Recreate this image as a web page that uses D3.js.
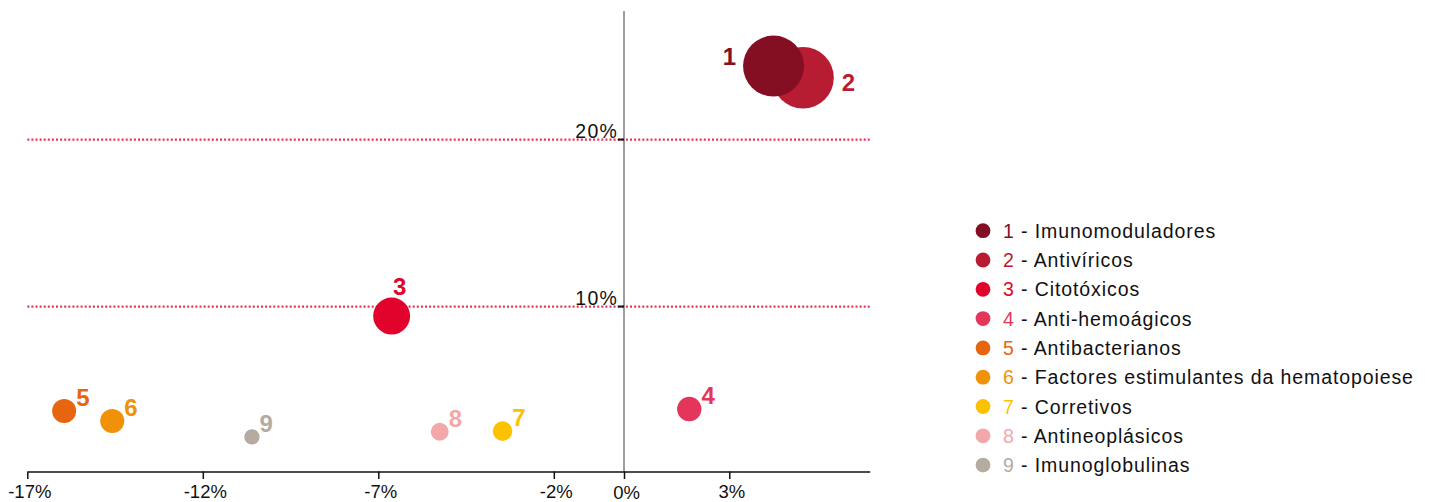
<!DOCTYPE html>
<html>
<head>
<meta charset="utf-8">
<script src="https://cdn.jsdelivr.net/npm/d3@7"></script>
<style>
  html, body { margin: 0; padding: 0; background: #fff; }
  svg { display: block; font-family: "Liberation Sans", Arial, Helvetica, sans-serif; }
</style>
</head>
<body>
<svg id="chart" width="1432" height="502"></svg>
<script>
// Therapeutic groups: growth in value (x, %) vs share (y, %), bubble area = size
const ids = [1, 2, 3, 4, 5, 6, 7, 8, 9];
const names = [
  "Imunomoduladores",
  "Antivíricos",
  "Citotóxicos",
  "Anti-hemoágicos",
  "Antibacterianos",
  "Factores estimulantes da hematopoiese",
  "Corretivos",
  "Antineoplásicos",
  "Imunoglobulinas"
];
const growth = [4.26, 5.10, -6.62, 1.86, -15.95, -14.58, -3.46, -5.25, -10.6];
const share = [24.4, 23.7, 9.43, 3.86, 3.75, 3.14, 2.54, 2.50, 2.19];
const size = [98, 100, 36, 15.7, 15.2, 15.2, 10.1, 8.5, 6.2];
const colors = ["#850f22", "#b81c33", "#e2032c", "#e3365a", "#e8650f", "#f09107", "#fcc200", "#f2a8a8", "#b5aba1"];
const labelSide = ["left", "right", "top", "ne", "ne", "ne", "ne", "ne", "ne"];

const xTicks = [-17, -12, -7, -2, 0, 3];
const yTicks = [10, 20];

const svg = d3.select("#chart");

const x = d3.scaleLinear().domain([-17, 7]).range([27.3, 869.7]);
const y = d3.scaleLinear().domain([0, 28]).range([473.5, 6]);
const r = d3.scaleSqrt().domain([0, 100]).range([0, 30.8]);

const plotTop = 11, plotBottom = 471.5;

// dotted reference lines at the y ticks
svg.append("g")
  .selectAll("line")
  .data(yTicks)
  .join("line")
  .attr("x1", x.range()[0])
  .attr("x2", x.range()[1])
  .attr("y1", d => y(d))
  .attr("y2", d => y(d))
  .attr("stroke", "#e63358")
  .attr("stroke-width", 2.3)
  .attr("stroke-dasharray", "2,2.1");

// vertical axis through 0%
svg.append("line")
  .attr("x1", x(0)).attr("x2", x(0))
  .attr("y1", plotTop).attr("y2", plotBottom)
  .attr("stroke", "#6b6b6b")
  .attr("stroke-width", 1.3);

// y tick marks and labels
const yg = svg.append("g");
yg.selectAll("line")
  .data(yTicks)
  .join("line")
  .attr("x1", x(0) - 6).attr("x2", x(0))
  .attr("y1", d => y(d)).attr("y2", d => y(d))
  .attr("stroke", "#111")
  .attr("stroke-width", 2);
yg.selectAll("text")
  .data(yTicks)
  .join("text")
  .attr("x", x(0) - 6)
  .attr("y", d => y(d) - 1.5)
  .attr("text-anchor", "end")
  .attr("font-size", 19.5)
  .attr("letter-spacing", 1.2)
  .attr("fill", "#111")
  .text(d => d + "%");

// bottom axis
const xAxis = d3.axisBottom(x)
  .tickValues(xTicks)
  .tickSize(7.5)
  .tickPadding(7)
  .tickSizeOuter(0)
  .tickFormat(d => d + "%");
const xg = svg.append("g")
  .attr("transform", `translate(0,${plotBottom})`)
  .call(xAxis);
xg.select(".domain").attr("stroke", "#111").attr("stroke-width", 1.5);
xg.selectAll(".tick line").attr("stroke", "#111").attr("stroke-width", 1.5);
xg.selectAll(".tick text")
  .attr("font-family", "'Liberation Sans', Arial, Helvetica, sans-serif")
  .attr("font-size", 18.5)
  .attr("fill", "#111")
  .attr("dx", 2)
  .attr("dy", d => d === 0 ? "0.69em" : "0.66em");

// bubbles, largest drawn first
const pts = ids.map((id, i) => ({
  id, name: names[i], gx: growth[i], sy: share[i], s: size[i], c: colors[i], side: labelSide[i]
}));
const order = pts.slice().sort((a, b) => b.s - a.s);

svg.append("g")
  .selectAll("circle")
  .data(order)
  .join("circle")
  .attr("cx", d => x(d.gx))
  .attr("cy", d => y(d.sy))
  .attr("r", d => r(d.s))
  .attr("fill", d => d.c);

// number labels next to the bubbles
svg.append("g")
  .selectAll("text")
  .data(pts)
  .join("text")
  .attr("font-size", 24)
  .attr("font-weight", "bold")
  .attr("fill", d => d.c)
  .attr("text-anchor", d => d.side === "left" ? "end" : (d.side === "top" ? "middle" : "start"))
  .attr("x", d => {
    const cx = x(d.gx), rr = r(d.s);
    if (d.side === "left") return cx - rr - 7;
    if (d.side === "right") return cx + rr + 8;
    if (d.side === "top") return cx + 8;
    return cx + rr;
  })
  .attr("y", d => {
    const cy = y(d.sy), rr = r(d.s);
    if (d.side === "left") return cy - 1;
    if (d.side === "right") return cy + 13;
    if (d.side === "top") return cy - rr - 3;
    return cy - 5;
  })
  .text(d => d.id);

// legend
const legend = svg.append("g").attr("transform", "translate(983,230.7)");
const rows = legend.selectAll("g")
  .data(pts)
  .join("g")
  .attr("transform", (d, i) => `translate(0,${i * 29.3})`);
rows.append("circle")
  .attr("r", 7.4)
  .attr("fill", d => d.c);
const lt = rows.append("text")
  .attr("x", 20)
  .attr("y", 7)
  .attr("font-size", 19.5)
  .attr("letter-spacing", 0.9);
lt.append("tspan").attr("fill", d => d.c).text(d => d.id);
lt.append("tspan").attr("fill", "#111").text(d => " - " + d.name);
</script>
</body>
</html>
